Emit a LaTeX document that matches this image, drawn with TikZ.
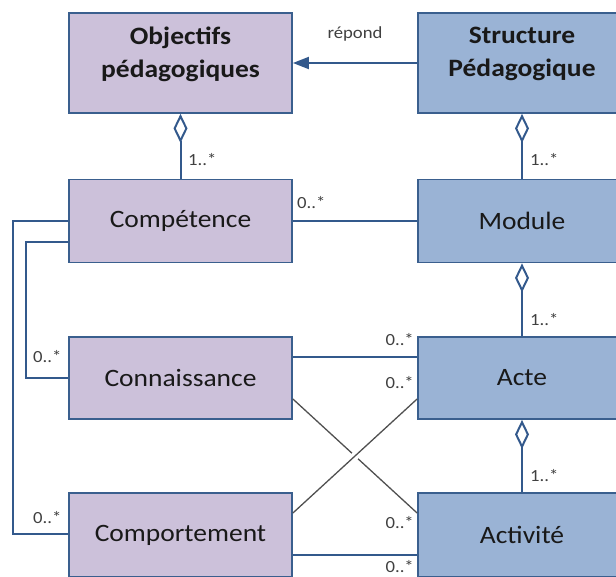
\documentclass[tikz,border=0pt]{standalone}
\usepackage{fontspec}
\setmainfont[FakeStretch=1.1]{Carlito}
\usetikzlibrary{arrows.meta,calc}
\definecolor{lav}{HTML}{CCC1DA}
\definecolor{blu}{HTML}{9AB3D5}
\definecolor{edgec}{HTML}{3A5F8E}
\definecolor{relc}{HTML}{33598C}
\definecolor{crossc}{HTML}{505050}
\definecolor{lbl}{HTML}{404040}
\tikzset{
  box/.style={draw=edgec, line width=1.8pt, rectangle, inner sep=0pt, align=center,
    font=\fontsize{25}{33}\selectfont, text=black!90},
  lbox/.style={box, fill=lav, minimum width=223pt},
  rbox/.style={box, fill=blu, minimum width=208pt},
  boxtext/.style={inner sep=0pt, align=center, font=\fontsize{25}{33}\selectfont\bfseries, text=black!90},
  rel/.style={draw=relc, line width=2pt},
  crossl/.style={draw=crossc, line width=1.3pt},
  agg/.style={rel, -{Diamond[open, length=29pt, width=14pt, fill=white]}},
  mult/.style={font=\fontsize{17}{20}\selectfont, text=lbl, inner sep=0pt},
}
\begin{document}
\begin{tikzpicture}[x=1pt, y=-1pt]
\useasboundingbox (0,0) rectangle (616,576);
\clip (0,0) rectangle (616,576);
% boxes
\node[lbox, minimum height=100pt] (obj) at (180.5,63) {};
\node[boxtext] (objt) at (180.5,54) {Objectifs\\pédagogiques};
\node[rbox, minimum height=100pt] (struct) at (522,63) {};
\node[boxtext] (structt) at (522,54) {Structure\\Pédagogique};
\node[lbox, minimum height=83pt] (comp) at (180.5,221) {Compétence};
\node[rbox, minimum height=83pt] (mod) at (522,221) {Module};
\node[lbox, minimum height=82pt] (conn) at (180.5,378) {Connaissance};
\node[rbox, minimum height=82pt] (acte) at (522,378) {Acte};
\node[lbox, minimum height=84pt] (compt) at (180.5,535) {Comportement};
\node[rbox, minimum height=84pt] (activ) at (522,535) {Activité};
% connectors
\draw[rel, -{Triangle[length=16pt, width=12pt]}] (struct.west) -- (obj.east)
  node[pos=0.5, above=21pt, mult] (rep) {répond};
\draw[agg] (comp.north) -- (obj.south);
\draw[agg] (mod.north) -- (struct.south);
\draw[agg] (acte.north) -- (mod.south);
\draw[agg] (activ.north) -- (acte.south);
\draw[rel] (comp.east) -- (mod.west);
\draw[rel] (comp.west) -- ++(-55,0) |- ([yshift=1pt]compt.west);
\draw[rel] ([yshift=-21pt]comp.west) -- ++(-42,0) |- (conn.west);
\draw[rel] ([yshift=21pt]conn.east) -- ([yshift=21pt]acte.west);
\draw[rel] ([yshift=-20pt]compt.east) -- ([yshift=-20pt]activ.west);
\coordinate (d1) at ([yshift=-21pt]conn.east);
\coordinate (d2) at ([yshift=22pt]activ.west);
\coordinate (a1) at ([yshift=22pt]compt.east);
\coordinate (a2) at ([yshift=-21pt]acte.west);
\draw[crossl] (d1) -- (d2);
\draw[draw=white, line width=8pt] ($(a1)!0.45!(a2)$) -- ($(a1)!0.55!(a2)$);
\draw[crossl] (a1) -- (a2);
% multiplicities
\node[mult, anchor=west] (m1) at (188,160) {1..*};
\node[mult, anchor=west] (m2) at (530,160) {1..*};
\node[mult, anchor=west] (m3) at (297,203) {0..*};
\node[mult, anchor=west] (m4) at (530,320) {1..*};
\node[mult, anchor=west] (m5) at (530,476) {1..*};
\node[mult, anchor=east] (m6) at (414,340) {0..*};
\node[mult, anchor=east] (m7) at (414,383) {0..*};
\node[mult, anchor=east] (m8) at (414,523) {0..*};
\node[mult, anchor=east] (m9) at (414,567) {0..*};
\node[mult, anchor=west] (m10) at (33,357) {0..*};
\node[mult, anchor=west] (m11) at (33,518) {0..*};
\end{tikzpicture}
\end{document}
